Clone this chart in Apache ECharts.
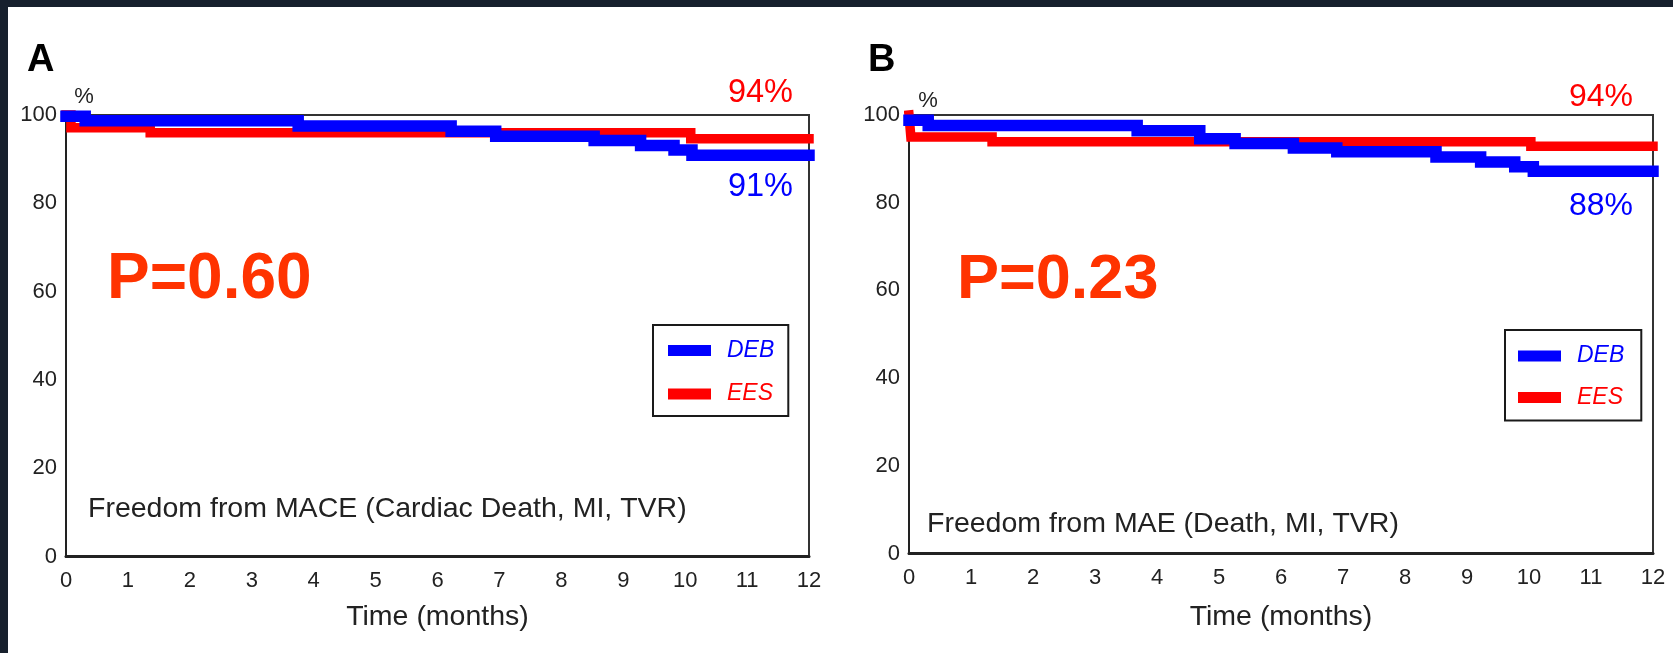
<!DOCTYPE html>
<html><head><meta charset="utf-8">
<script src="https://cdn.jsdelivr.net/npm/echarts@6/dist/echarts.min.js"></script>
<style>
html,body{margin:0;padding:0;background:#17202d;width:1673px;height:653px;overflow:hidden}
#paper{position:absolute;left:8px;top:7px;right:0;bottom:0;background:#fff}
#chart{position:absolute;left:0;top:0;width:1673px;height:653px}
</style></head><body><div id="paper"></div><div id="chart"></div>
<script>
// ---- data ----
const xTicks = [0,1,2,3,4,5,6,7,8,9,10,11,12];   // months
const yTicks = [0,20,40,60,80,100];              // %
const seriesNames = ['DEB','EES'];

// Panel A: Freedom from MACE
const debA_t = [0, 0.31, 3.75, 6.22, 6.94, 8.53, 9.28, 9.82, 10.11, 12];
const debA_s = [99.7, 98.7, 97.5, 96.3, 95.2, 94.2, 93.1, 92.1, 90.9, 90.9];
const eesA_t = [0, 0.08, 1.36, 10.09, 12];
const eesA_s = [100, 97.1, 96.0, 94.6, 94.6];

// Panel B: Freedom from MAE
const debB_t = [0, 0.31, 3.68, 4.69, 5.26, 6.2, 6.9, 8.5, 9.22, 9.77, 10.07, 12];
const debB_s = [98.8, 97.6, 96.4, 94.6, 93.5, 92.5, 91.6, 90.4, 89.3, 88.2, 87.2, 87.2];
const eesB_t = [0, 0.03, 1.34, 10.03, 12];
const eesB_s = [100, 95.0, 93.9, 92.9, 92.9];

const panelLabels = ['A','B'];
const pValues = ['P=0.60','P=0.23'];
const endLabelsEES = ['94%','94%'];
const endLabelsDEB = ['91%','88%'];
const captions = ['Freedom from MACE (Cardiac Death, MI, TVR)','Freedom from MAE (Death, MI, TVR)'];
const xName = 'Time (months)';
const yUnit = '%';

// ---- styling ----
const BLUE = '#0000ff', RED = '#ff0000', PRED = '#ff3300', INK = '#222222';
const fMain = '"Liberation Sans", Arial, sans-serif';
const fNarrow = '"Liberation Sans Narrow", "Arial Narrow", "Liberation Sans", sans-serif';

const pairs = (t, s) => t.map((v, i) => [v, s[i]]);

const grids = [
  {left: 66, top: 115, width: 743, height: 441.5},
  {left: 909, top: 115, width: 744, height: 438.5}
];
const nameGaps = [46.5, 49.4];

function xAxisFor(i) {
  return {
    type: 'value', gridIndex: i, min: xTicks[0], max: xTicks[xTicks.length-1], interval: 1,
    axisLine: {show: true, lineStyle: {color: INK, width: 3}},
    axisTick: {show: false}, splitLine: {show: false},
    axisLabel: {fontFamily: fNarrow, fontSize: 22, color: INK, margin: 13},
    name: xName, nameLocation: 'middle', nameGap: nameGaps[i],
    nameTextStyle: {fontFamily: fMain, fontSize: 28.5, color: INK}
  };
}
function yAxisFor(i) {
  return {
    type: 'value', gridIndex: i, min: yTicks[0], max: yTicks[yTicks.length-1], interval: 20,
    axisLine: {show: true, lineStyle: {color: INK, width: 2}},
    axisTick: {show: false}, splitLine: {show: false},
    axisLabel: {fontFamily: fNarrow, fontSize: 22, color: INK, margin: 9}
  };
}
function line(name, data, i, color, width) {
  return {
    type: 'line', name: name, xAxisIndex: i, yAxisIndex: i, data: data,
    step: 'end', symbol: 'none', showSymbol: false, clip: false,
    lineStyle: {color: color, width: width, cap: 'square', join: 'miter'},
    itemStyle: {color: color}, z: name === 'DEB' ? 3 : 2
  };
}
function legendFor(i, left, top, pad, gap) {
  return {
    orient: 'vertical', left: left, top: top, padding: pad, itemGap: gap,
    itemWidth: 43, itemHeight: 11, icon: 'rect', selectedMode: false,
    borderColor: '#1a1a1a', borderWidth: 2, backgroundColor: '#fff',
    textStyle: {fontFamily: fMain, fontSize: 23, fontStyle: 'italic', lineHeight: 24, padding: [0,0,0,11]},
    data: [
      {name: seriesNames[0], textStyle: {color: BLUE}},
      {name: seriesNames[1], textStyle: {color: RED}}
    ]
  };
}
function txt(x, y, text, font, color, align) {
  return {type: 'text', x: x, y: y, z: 10, style: {
    text: text, font: font, fill: color,
    align: align || 'left', verticalAlign: 'middle',
    textAlign: align || 'left', textVerticalAlign: 'middle'
  }};
}

const option = {
  animation: false,
  backgroundColor: 'transparent',
  grid: grids.map(g => Object.assign({show: true, borderColor: '#333', borderWidth: 2, backgroundColor: 'transparent', containLabel: false}, g)),
  xAxis: [xAxisFor(0), xAxisFor(1)],
  yAxis: [yAxisFor(0), yAxisFor(1)],
  legend: [legendFor(0, 653, 325, [13.5, 14, 10, 15], 19.5), legendFor(1, 1505, 330, [14, 17, 11, 13], 17.5)],
  series: [
    line('EES', pairs(eesA_t, eesA_s), 0, RED, 9.5),
    line('DEB', pairs(debA_t, debA_s), 0, BLUE, 11.5),
    line('EES', pairs(eesB_t, eesB_s), 1, RED, 9.5),
    line('DEB', pairs(debB_t, debB_s), 1, BLUE, 11.5)
  ],
  graphic: [
    txt(27, 60.5, panelLabels[0], 'bold 38px ' + fMain, '#000'),
    txt(868, 60.5, panelLabels[1], 'bold 38px ' + fMain, '#000'),
    txt(84, 96.7, yUnit, '22px ' + fNarrow, INK, 'center'),
    txt(928, 100.5, yUnit, '22px ' + fNarrow, INK, 'center'),
    txt(793, 93.3, endLabelsEES[0], '32.5px ' + fMain, RED, 'right'),
    txt(793, 186.7, endLabelsDEB[0], '32.5px ' + fMain, BLUE, 'right'),
    txt(1633, 97.5, endLabelsEES[1], '32px ' + fMain, RED, 'right'),
    txt(1633, 205.8, endLabelsDEB[1], '32px ' + fMain, BLUE, 'right'),
    txt(107, 280.3, pValues[0], 'bold 64px ' + fMain, PRED),
    txt(957, 280.3, pValues[1], 'bold 63px ' + fMain, PRED),
    txt(88, 509, captions[0], '28.5px ' + fMain, INK),
    txt(927, 523.8, captions[1], '28.5px ' + fMain, INK)
  ]
};
const chart = echarts.init(document.getElementById('chart'), null, {renderer: 'canvas'});
chart.setOption(option);
</script></body></html>
